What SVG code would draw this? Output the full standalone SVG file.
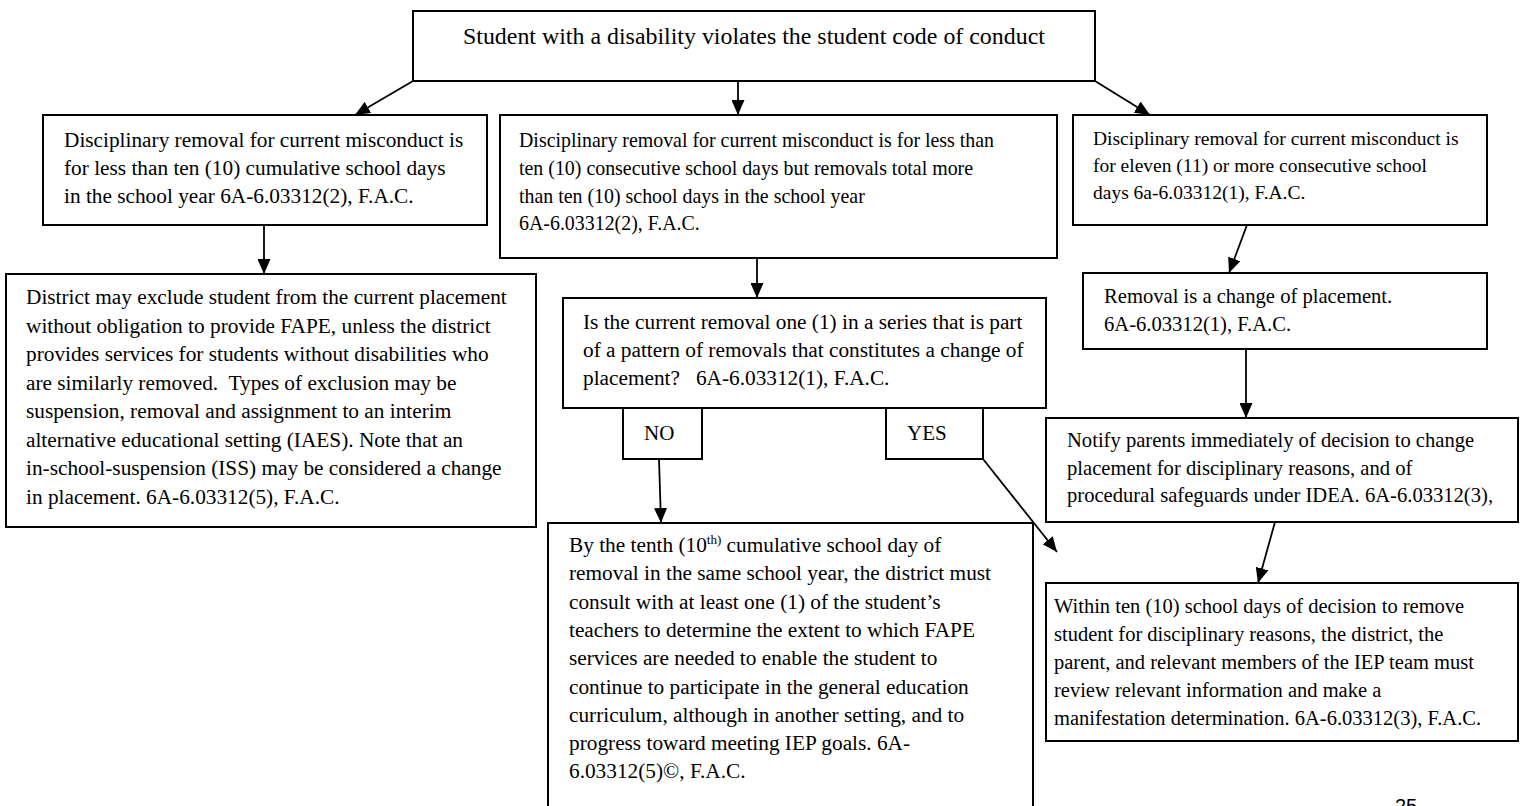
<svg xmlns="http://www.w3.org/2000/svg" width="1537" height="806" viewBox="0 0 1537 806">
<defs>
<style>
.box{fill:#fff;stroke:#000;stroke-width:2}
.t{font-family:"Liberation Serif","Times New Roman",serif;fill:#000;white-space:pre}
.c{fill:none;stroke:#000;stroke-width:1.8}
</style>
<marker id="ah" markerUnits="userSpaceOnUse" markerWidth="15" markerHeight="13" refX="15" refY="6.5" orient="auto" viewBox="0 0 15 13">
<path d="M0,0 L15,6.5 L0,13 z" fill="#000"/>
</marker>
</defs>
<rect width="1537" height="806" fill="#fff"/>

<g id="top">
<rect class="box" x="413" y="11" width="682" height="70"/>
<text class="t" x="463" y="44" font-size="23.9">Student with a disability violates the student code of conduct</text>
</g>

<g id="left1">
<rect class="box" x="43" y="115" width="444" height="110"/>
<text class="t" font-size="21.3"><tspan x="64" y="147">Disciplinary removal for current misconduct is</tspan><tspan x="64" y="175">for less than ten (10) cumulative school days</tspan><tspan x="64" y="203">in the school year 6A-6.03312(2), F.A.C.</tspan></text>
</g>

<g id="mid1">
<rect class="box" x="500" y="115" width="557" height="143"/>
<text class="t" font-size="19.9"><tspan x="519" y="147">Disciplinary removal for current misconduct is for less than</tspan><tspan x="519" y="175">ten (10) consecutive school days but removals total more</tspan><tspan x="519" y="203">than ten (10) school days in the school year</tspan><tspan x="519" y="230">6A-6.03312(2), F.A.C.</tspan></text>
</g>

<g id="right1">
<rect class="box" x="1073" y="115" width="414" height="110"/>
<text class="t" font-size="19.5"><tspan x="1093" y="145">Disciplinary removal for current misconduct is</tspan><tspan x="1093" y="172">for eleven (11) or more consecutive school</tspan><tspan x="1093" y="199">days 6a-6.03312(1), F.A.C.</tspan></text>
</g>

<g id="left2">
<rect class="box" x="6" y="274" width="530" height="253"/>
<text class="t" font-size="21.3"><tspan x="26" y="304">District may exclude student from the current placement</tspan><tspan x="26" y="332.5">without obligation to provide FAPE, unless the district</tspan><tspan x="26" y="361">provides services for students without disabilities who</tspan><tspan x="26" y="389.5">are similarly removed.  Types of exclusion may be</tspan><tspan x="26" y="418">suspension, removal and assignment to an interim</tspan><tspan x="26" y="446.5">alternative educational setting (IAES). Note that an</tspan><tspan x="26" y="475">in-school-suspension (ISS) may be considered a change</tspan><tspan x="26" y="503.5">in placement. 6A-6.03312(5), F.A.C.</tspan></text>
</g>

<g id="mid2">
<rect class="box" x="563" y="298" width="483" height="110"/>
<text class="t" font-size="21.3"><tspan x="583" y="329">Is the current removal one (1) in a series that is part</tspan><tspan x="583" y="357">of a pattern of removals that constitutes a change of</tspan><tspan x="583" y="385">placement?   6A-6.03312(1), F.A.C.</tspan></text>
</g>

<g id="no">
<rect class="box" x="623" y="408" width="79" height="51"/>
<text class="t" x="644" y="440" font-size="21">NO</text>
</g>

<g id="yes">
<rect class="box" x="886" y="408" width="97" height="51"/>
<text class="t" x="907" y="440" font-size="21">YES</text>
</g>

<g id="mid3">
<rect class="box" x="548" y="523" width="485" height="300"/>
<text class="t" font-size="21.3"><tspan x="569" y="552">By the tenth (10</tspan><tspan font-size="13" dy="-8">th)</tspan><tspan dy="8"> cumulative school day of</tspan><tspan x="569" y="580.3">removal in the same school year, the district must</tspan><tspan x="569" y="608.6">consult with at least one (1) of the student’s</tspan><tspan x="569" y="636.9">teachers to determine the extent to which FAPE</tspan><tspan x="569" y="665.2">services are needed to enable the student to</tspan><tspan x="569" y="693.5">continue to participate in the general education</tspan><tspan x="569" y="721.8">curriculum, although in another setting, and to</tspan><tspan x="569" y="750.1">progress toward meeting IEP goals. 6A-</tspan><tspan x="569" y="778.4">6.03312(5)©, F.A.C.</tspan></text>
</g>

<g id="right2">
<rect class="box" x="1083" y="273" width="404" height="76"/>
<text class="t" font-size="20.6"><tspan x="1104" y="303">Removal is a change of placement.</tspan><tspan x="1104" y="331">6A-6.03312(1), F.A.C.</tspan></text>
</g>

<g id="right3">
<rect class="box" x="1046" y="418" width="472" height="104"/>
<text class="t" font-size="20.6"><tspan x="1067" y="447">Notify parents immediately of decision to change</tspan><tspan x="1067" y="474.5">placement for disciplinary reasons, and of</tspan><tspan x="1067" y="502">procedural safeguards under IDEA. 6A-6.03312(3),</tspan></text>
</g>

<g id="right4">
<rect class="box" x="1046" y="583" width="472" height="158"/>
<text class="t" font-size="20.5"><tspan x="1054" y="613">Within ten (10) school days of decision to remove</tspan><tspan x="1054" y="641">student for disciplinary reasons, the district, the</tspan><tspan x="1054" y="669">parent, and relevant members of the IEP team must</tspan><tspan x="1054" y="697">review relevant information and make a</tspan><tspan x="1054" y="725">manifestation determination. 6A-6.03312(3), F.A.C.</tspan></text>
</g>

<g id="connectors">
<path class="c" d="M413,81 L355,115" marker-end="url(#ah)"/>
<path class="c" d="M738,81 L738,115" marker-end="url(#ah)"/>
<path class="c" d="M1095,81 L1150,115" marker-end="url(#ah)"/>
<path class="c" d="M264,225 L264,274" marker-end="url(#ah)"/>
<path class="c" d="M757,258 L757,298" marker-end="url(#ah)"/>
<path class="c" d="M1247,225 L1229,273" marker-end="url(#ah)"/>
<path class="c" d="M659,459 L661,523" marker-end="url(#ah)"/>
<path class="c" d="M983,459 L1057,552" marker-end="url(#ah)"/>
<path class="c" d="M1246,349 L1246,418" marker-end="url(#ah)"/>
<path class="c" d="M1275,522 L1258,583" marker-end="url(#ah)"/>
</g>

<text x="1395" y="813" font-family="'Liberation Sans',Arial,sans-serif" font-size="20" fill="#000">25</text>
</svg>
